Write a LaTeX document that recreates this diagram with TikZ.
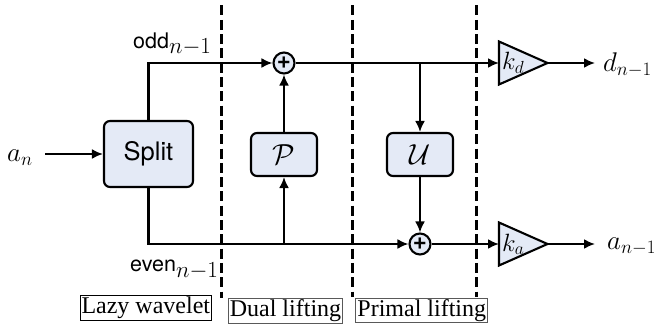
\RequirePackage{fix-cm}
\documentclass[tikz,border=0pt]{standalone}
\usepackage[no-math]{fontspec}
\newfontfamily\helvfont{TeX Gyre Heros}
\newfontfamily\timesfont{Liberation Serif}
\usetikzlibrary{arrows.meta}
\definecolor{boxfill}{RGB}{228,234,246}

\tikzset{
  blk/.style={draw, fill=boxfill, rounded corners=6pt, line width=2.1pt, inner sep=0pt},
  sumnode/.style={draw, circle, fill=boxfill, inner sep=0pt, minimum size=21pt,
    line width=2.1pt, font=\helvfont\bfseries\fontsize{24}{24}\selectfont},
  gain/.style={draw, fill=boxfill, line width=2.1pt, line join=miter},
  sig/.style={line width=2.1pt, -{Latex[length=11pt,width=10pt]}},
  stage/.style={line width=2.1pt, dash pattern=on 10pt off 4.3pt},
  tag/.style={draw, line width=1pt, inner xsep=1.5pt, inner ysep=1pt,
    text height=17pt, text depth=5.5pt, font=\timesfont\fontsize{24}{26}\selectfont},
  mathlab/.style={anchor=base west, inner sep=0pt, font=\fontsize{27}{30}\selectfont},
  sublab/.style={anchor=base west, inner sep=0pt}
}

\newcommand{\seqlab}[1]{{\helvfont\fontsize{21.5}{24}\selectfont #1}\raisebox{-5.5pt}{\fontsize{23}{25}\selectfont$n{-}1$}}

\begin{document}
\begin{tikzpicture}[x=1pt,y=-1pt]
\useasboundingbox (0,0) rectangle (659,329);

% processing blocks
\node[blk, minimum width=89pt, minimum height=66pt,
      font=\helvfont\fontsize{25.5}{28}\selectfont] (split) at (148.5,154) {Split};
\node[blk, minimum width=66pt, minimum height=43pt,
      font=\fontsize{29}{32}\selectfont] (pred) at (284,154.5) {$\mathcal{P}$};
\node[blk, minimum width=66pt, minimum height=43pt,
      font=\fontsize{29}{32}\selectfont] (upd) at (420,154.5) {$\mathcal{U}$};

% adders
\node[sumnode] (s1) at (284,63) {+};
\node[sumnode] (s2) at (420,244) {+};

% gain stages
\coordinate (kdin) at (499,63);
\coordinate (kdtip) at (547.5,63);
\coordinate (kain) at (499,244);
\coordinate (katip) at (547.5,244);
\draw[gain] (499,41.5) -- (kdtip) -- (499,84.5) -- cycle;
\draw[gain] (499,222.5) -- (katip) -- (499,265.5) -- cycle;
\node[mathlab, font=\fontsize{25}{28}\selectfont] (kdlab) at (502,70) {$k_d$};
\node[mathlab, font=\fontsize{25}{28}\selectfont] (kalab) at (502,251) {$k_a$};

% signal labels
\node[mathlab] (anlab) at (7,161) {$a_n$};
\node[mathlab] (dlab) at (603,71.5) {$d_{n-1}$};
\node[mathlab] (alab) at (607,249.3) {$a_{n-1}$};
\node[sublab] (oddlab) at (133,48.3) {\seqlab{odd}};
\node[sublab] (evenlab) at (130,271.7) {\seqlab{even}};

\coordinate (ain) at (45,154);
\coordinate (dout) at (595,63);
\coordinate (aout) at (595,244);

% signal flow
\draw[sig] (ain) -- (split.west);
\draw[sig] (split.north) |- (s1.west);
\draw[sig] (split.south) |- (s2.west);
\draw[sig] (pred.south |- s2) -- (pred.south);
\draw[sig] (pred.north) -- (s1.south);
\draw[sig] (s1.east) -- (kdin);
\draw[sig] (upd.north |- s1) -- (upd.north);
\draw[sig] (upd.south) -- (s2.north);
\draw[sig] (s2.east) -- (kain);
\draw[sig] (kdtip) -- (dout);
\draw[sig] (katip) -- (aout);

% stage separators
\coordinate (sep1t) at (221.5,5.5);  \coordinate (sep1b) at (221.5,297.5);
\coordinate (sep2t) at (352.5,5.5);  \coordinate (sep2b) at (352.5,297);
\coordinate (sep3t) at (476.5,5.5);  \coordinate (sep3b) at (476.5,297);
\draw[stage] (sep1t) -- (sep1b);
\draw[stage] (sep2t) -- (sep2b);
\draw[stage] (sep3t) -- (sep3b);

% stage names
\node[tag] (lazy) at (145.8,308) {Lazy wavelet};
\node[tag, draw=black!65] (dual) at (285.5,311) {Dual lifting};
\node[tag, draw=black!65] (primal) at (421.8,310.3) {Primal lifting};
\end{tikzpicture}
\end{document}
